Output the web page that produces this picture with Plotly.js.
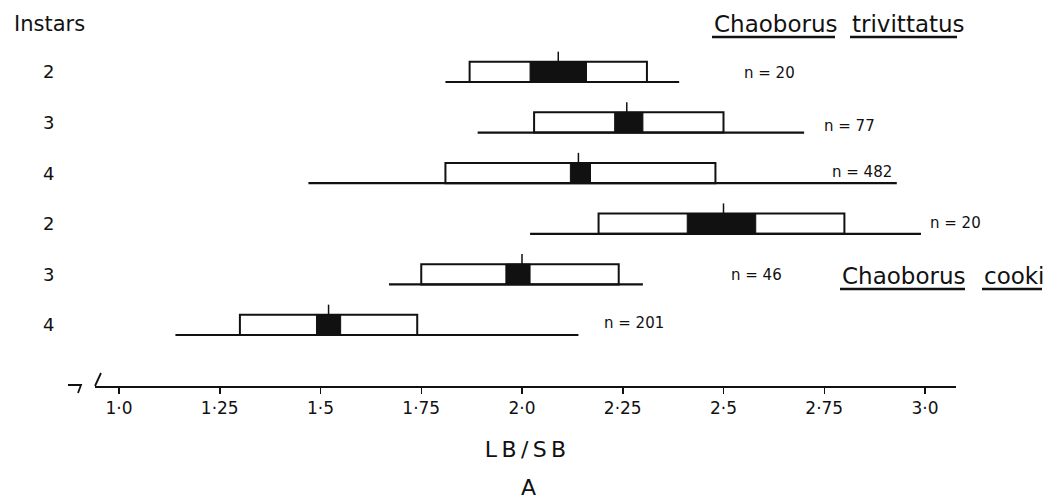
<!DOCTYPE html>
<html><head><meta charset="utf-8">
<script src="https://cdn.plot.ly/plotly-3.0.1.min.js"></script>
<style>html,body{margin:0;padding:0;background:#fff}#chart{width:1046px;height:504px}</style>
</head><body><div id="chart"></div>
<script>
// ---- data (top to bottom rows) ----
const speciesNames = ['Chaoborus trivittatus', 'Chaoborus cooki'];
const instars   = [2, 3, 4, 2, 3, 4];
const sampleN   = [20, 77, 482, 20, 46, 201];
const rangeLow  = [1.81, 1.89, 1.47, 2.02, 1.67, 1.14];
const boxLow    = [1.87, 2.03, 1.81, 2.19, 1.75, 1.30];
const meanLow   = [2.02, 2.23, 2.12, 2.41, 1.96, 1.49];
const meanHigh  = [2.16, 2.30, 2.17, 2.58, 2.02, 1.55];
const boxHigh   = [2.31, 2.50, 2.48, 2.80, 2.24, 1.74];
const rangeHigh = [2.39, 2.70, 2.93, 2.99, 2.30, 2.14];
const meanVal   = [2.09, 2.26, 2.14, 2.50, 2.00, 1.52];
const tickVals  = [1.0, 1.25, 1.5, 1.75, 2.0, 2.25, 2.5, 2.75, 3.0];
const tickText  = ['1·0', '1·25', '1·5', '1·75', '2·0', '2·25', '2·5', '2·75', '3·0'];
const axisTitle = 'LB/SB';
const panelLabel = 'A';
const instarHeader = 'Instars';

// ---- layout helpers ----
const FONT = 'DejaVu Sans';
const INK = '#111';
const L = 95, R = 956, T = 10, B = 386, W = 1046, H = 504;
const P = px => (px - L) / (R - L);
const Q = py => (B - py) / (B - T);
const n = instars.length;
const rowPos = instars.map((_, i) => n - 1 - i);
const boxH = 0.4, tickTop = 0.6;

function segs(xa, xb, ya, yb) {
  const xs = [], ys = [];
  for (let i = 0; i < xa.length; i++) { xs.push(xa[i], xb[i], null); ys.push(ya[i], yb[i], null); }
  return {xs, ys};
}

const rl = segs(rangeLow, rangeHigh, rowPos, rowPos);
const mt = segs(meanVal, meanVal, rowPos.map(p => p + boxH), rowPos.map(p => p + tickTop));

const traces = [
  {type: 'bar', orientation: 'h', base: boxLow, x: boxHigh.map((v, i) => v - boxLow[i]),
   y: rowPos.map(p => p + boxH / 2), width: boxH, marker: {color: '#fff', line: {color: INK, width: 2}},
   showlegend: false, hoverinfo: 'skip'},
  {type: 'bar', orientation: 'h', base: meanLow, x: meanHigh.map((v, i) => v - meanLow[i]),
   y: rowPos.map(p => p + boxH / 2), width: boxH, marker: {color: INK, line: {color: INK, width: 1}},
   showlegend: false, hoverinfo: 'skip'},
  {type: 'scatter', mode: 'lines', x: rl.xs, y: rl.ys, line: {color: INK, width: 2.2},
   showlegend: false, hoverinfo: 'skip'},
  {type: 'scatter', mode: 'lines', x: mt.xs, y: mt.ys, line: {color: INK, width: 1.5},
   showlegend: false, hoverinfo: 'skip'}
];

const annotations = [];
annotations.push({text: instarHeader, xref: 'paper', yref: 'paper', x: P(12), y: Q(24),
  xanchor: 'left', yanchor: 'middle', showarrow: false, font: {family: FONT, size: 21, color: INK}});
instars.forEach((v, i) => annotations.push({text: String(v), xref: 'paper', yref: 'y', x: P(48),
  y: rowPos[i] + boxH / 2, xanchor: 'center', yanchor: 'middle', showarrow: false,
  font: {family: FONT, size: 18, color: INK}}));
const nLabelPos = [[742, 73], [822, 126], [830, 172], [928, 223], [729, 275], [602, 323]];
sampleN.forEach((v, i) => annotations.push({text: 'n = ' + v, xref: 'paper', yref: 'paper',
  x: P(nLabelPos[i][0]), y: Q(nLabelPos[i][1]), xanchor: 'left', yanchor: 'middle', showarrow: false,
  font: {family: FONT, size: 15, color: INK}}));

const titlePos = [[[712, 835], [850, 957], 24, 37], [[840, 965], [982, 1042], 276, 289]];
const shapes = [];
speciesNames.forEach((name, k) => {
  const words = name.split(' ');
  const tp = titlePos[k];
  words.forEach((w, j) => {
    const span = tp[j];
    annotations.push({text: w, xref: 'paper', yref: 'paper', x: P(span[0]), y: Q(tp[2]),
      xanchor: 'left', yanchor: 'middle', showarrow: false, font: {family: FONT, size: 23, color: INK}});
    shapes.push({type: 'line', xref: 'paper', yref: 'paper', x0: P(span[0]), x1: P(span[1]),
      y0: Q(tp[3]), y1: Q(tp[3]), line: {color: INK, width: 2.5}});
  });
});
annotations.push({text: panelLabel, xref: 'paper', yref: 'paper', x: P(528), y: Q(488),
  xanchor: 'center', yanchor: 'middle', showarrow: false, font: {family: FONT, size: 22, color: INK}});

// axis break marks
function path(pts) { return pts.map((p, i) => (i ? 'L' : 'M') + P(p[0]) + ',' + Q(p[1])).join(' '); }
shapes.push({type: 'path', xref: 'paper', yref: 'paper', path: path([[68, 385], [81, 385], [78, 393]]),
  line: {color: INK, width: 1.8}});
shapes.push({type: 'path', xref: 'paper', yref: 'paper', path: path([[101, 373], [95, 386]]),
  line: {color: INK, width: 1.8}});

const xr = [1 + (L - 119) / 403, 1 + (R - 119) / 403];
const layout = {
  width: W, height: H,
  margin: {l: L, r: W - R, t: T, b: H - B, pad: 0},
  paper_bgcolor: '#fff', plot_bgcolor: 'rgba(0,0,0,0)',
  barmode: 'overlay', hovermode: false, showlegend: false,
  font: {family: FONT, color: INK},
  xaxis: {range: xr, tickmode: 'array', tickvals: tickVals, ticktext: tickText,
    ticks: 'outside', ticklen: 6, tickwidth: 1.5, tickcolor: INK,
    showline: true, linewidth: 1.5, linecolor: INK, showgrid: false, zeroline: false,
    tickfont: {family: FONT, size: 17, color: INK},
    title: {text: axisTitle.split('').join('\u2009'), font: {family: FONT, size: 22, color: INK}, standoff: 24},
    fixedrange: true},
  xaxis2: {range: xr, overlaying: 'x', anchor: 'y', side: 'bottom', tickmode: 'array', tickvals: tickVals,
    ticks: 'inside', ticklen: 8, tickwidth: 1.5, tickcolor: INK, showticklabels: false,
    showgrid: false, zeroline: false, showline: false, fixedrange: true},
  yaxis: {range: [-(B - 335) / 50.6, (335 - T) / 50.6], visible: false, showgrid: false, zeroline: false, fixedrange: true},
  annotations, shapes
};
Plotly.newPlot('chart', traces, layout, {displayModeBar: false, staticPlot: true});
</script></body></html>
